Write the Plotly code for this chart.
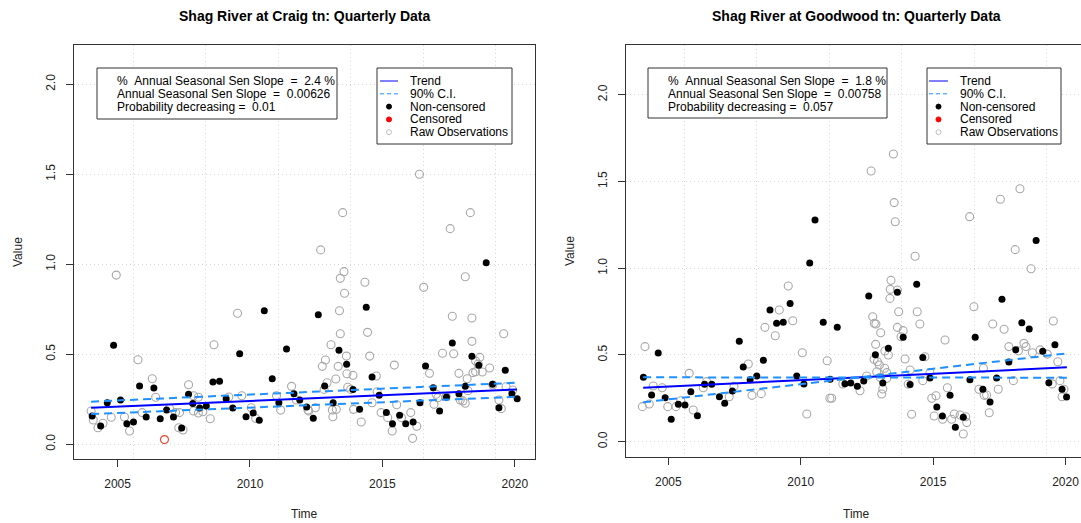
import plotly.graph_objects as go

W, H = 1081, 523

# ---------------- data: Craig (left panel) ----------------
craig_nc_t = [2004.04, 2004.36, 2004.61, 2004.85, 2005.11, 2005.35, 2005.60, 2005.83, 2006.08, 2006.37,
              2006.61, 2006.85, 2007.11, 2007.42, 2007.68, 2007.84, 2008.10, 2008.35, 2008.60, 2008.85,
              2009.10, 2009.35, 2009.61, 2009.85, 2010.12, 2010.35, 2010.54, 2010.84, 2011.09, 2011.38,
              2011.66, 2011.88, 2012.14, 2012.39, 2012.58, 2012.82, 2013.14, 2013.36, 2013.65, 2013.89,
              2014.14, 2014.39, 2014.61, 2014.88, 2015.15, 2015.38, 2015.65, 2015.88, 2016.16, 2016.42,
              2016.63, 2016.92, 2017.16, 2017.42, 2017.64, 2017.89, 2018.13, 2018.38, 2018.64, 2018.92,
              2019.16, 2019.40, 2019.64, 2019.89, 2020.09]
craig_nc_v = [0.157, 0.102, 0.231, 0.550, 0.246, 0.114, 0.124, 0.324, 0.152, 0.313,
              0.142, 0.190, 0.152, 0.091, 0.278, 0.226, 0.202, 0.213, 0.346, 0.350,
              0.253, 0.202, 0.503, 0.153, 0.174, 0.133, 0.742, 0.364, 0.231, 0.529,
              0.281, 0.246, 0.207, 0.144, 0.720, 0.324, 0.231, 0.522, 0.444, 0.305,
              0.194, 0.761, 0.374, 0.272, 0.176, 0.114, 0.161, 0.114, 0.124, 0.231,
              0.435, 0.314, 0.185, 0.263, 0.563, 0.281, 0.322, 0.489, 0.439, 1.009,
              0.333, 0.203, 0.411, 0.281, 0.253]
craig_cens_t = [2006.77]
craig_cens_v = [0.026]
craig_raw_t = [2004.95, 2016.40, 2013.50, 2018.32, 2017.56, 2012.67, 2013.55, 2013.41, 2014.34, 2016.56,
               2018.13, 2013.57, 2004.00, 2004.08, 2004.26, 2004.45, 2004.76, 2005.26, 2005.45, 2005.77,
               2005.93, 2006.31, 2006.44, 2006.96, 2007.19, 2007.34, 2007.31, 2007.47, 2007.68, 2007.87,
               2008.05, 2007.87, 2008.05, 2008.22, 2008.50, 2008.64, 2009.20, 2009.53, 2009.69, 2010.05,
               2010.21, 2011.00, 2011.16, 2011.57, 2011.75, 2012.19, 2013.38, 2014.44, 2013.41, 2013.06,
               2013.64, 2012.85, 2012.73, 2014.52, 2013.33, 2013.89, 2013.66, 2013.24, 2012.91, 2012.80,
               2013.69, 2013.80, 2015.45, 2014.77, 2014.80, 2014.61, 2012.47, 2012.22, 2013.11, 2013.26,
               2013.13, 2013.91, 2014.20, 2014.95, 2015.20, 2015.37, 2015.54, 2015.72, 2016.07, 2016.30,
               2016.14, 2016.78, 2017.03, 2016.95, 2017.27, 2017.69, 2017.64, 2018.38, 2018.38, 2017.89,
               2018.20, 2018.42, 2018.68, 2018.52, 2018.77, 2019.05, 2019.58, 2019.40, 2019.49, 2017.94,
               2018.04, 2018.13, 2018.62, 2018.52, 2017.41, 2017.09, 2019.17, 2019.92, 2019.67, 2018.23]
craig_raw_v = [0.940, 1.500, 1.287, 1.287, 1.198, 1.080, 0.959, 0.922, 0.900, 0.872,
               0.931, 0.839, 0.185, 0.135, 0.092, 0.117, 0.150, 0.152, 0.074, 0.470,
               0.176, 0.364, 0.261, 0.200, 0.176, 0.176, 0.092, 0.079, 0.331, 0.270,
               0.261, 0.185, 0.174, 0.181, 0.142, 0.553, 0.263, 0.728, 0.270, 0.203,
               0.144, 0.270, 0.190, 0.322, 0.246, 0.190, 0.742, 0.622, 0.614, 0.553,
               0.490, 0.468, 0.433, 0.490, 0.433, 0.383, 0.392, 0.363, 0.342, 0.305,
               0.317, 0.305, 0.440, 0.379, 0.292, 0.231, 0.203, 0.185, 0.190, 0.194,
               0.153, 0.194, 0.124, 0.176, 0.148, 0.074, 0.220, 0.148, 0.176, 0.100,
               0.033, 0.394, 0.278, 0.222, 0.506, 0.503, 0.711, 0.702, 0.572, 0.394,
               0.364, 0.398, 0.483, 0.463, 0.402, 0.424, 0.614, 0.246, 0.198, 0.246,
               0.241, 0.228, 0.446, 0.403, 0.265, 0.259, 0.329, 0.302, 0.320, 0.298]
craig_trend_t = [2004.00, 2020.08]
craig_trend_v = [0.203, 0.305]
craig_ci_a_v = [0.237, 0.342]
craig_ci_b_v = [0.168, 0.264]
craig_stats = ["%\u00a0\u00a0Annual Seasonal Sen Slope\u00a0\u00a0=\u00a0\u00a02.4 %",
               "Annual Seasonal Sen Slope\u00a0\u00a0=\u00a0\u00a00.00626",
               "Probability decreasing =\u00a0\u00a00.01"]

# ---------------- data: Goodwood (right panel) ----------------
good_nc_t = [2004.06, 2004.37, 2004.62, 2004.88, 2005.11, 2005.38, 2005.63, 2005.85, 2006.10, 2006.37,
             2006.64, 2006.93, 2007.13, 2007.42, 2007.68, 2007.83, 2008.09, 2008.34, 2008.59, 2008.84,
             2009.09, 2009.34, 2009.60, 2009.85, 2010.12, 2010.34, 2010.54, 2010.85, 2011.11, 2011.38,
             2011.67, 2011.89, 2012.14, 2012.38, 2012.57, 2012.82, 2013.10, 2013.31, 2013.65, 2013.87,
             2014.13, 2014.38, 2014.61, 2014.88, 2015.14, 2015.35, 2015.64, 2015.84, 2016.14, 2016.39,
             2016.59, 2016.88, 2017.15, 2017.40, 2017.60, 2017.86, 2018.12, 2018.35, 2018.63, 2018.89,
             2019.14, 2019.37, 2019.60, 2019.87, 2020.04]
good_nc_v = [0.371, 0.269, 0.511, 0.254, 0.129, 0.216, 0.212, 0.288, 0.150, 0.331,
             0.331, 0.259, 0.221, 0.292, 0.579, 0.431, 0.357, 0.379, 0.469, 0.759,
             0.682, 0.688, 0.797, 0.379, 0.333, 1.030, 1.278, 0.688, 0.360, 0.659,
             0.334, 0.338, 0.319, 0.350, 0.840, 0.501, 0.338, 0.538, 0.861, 0.602,
             0.329, 0.907, 0.486, 0.367, 0.200, 0.148, 0.267, 0.083, 0.141, 0.357,
             0.602, 0.302, 0.229, 0.367, 0.821, 0.459, 0.530, 0.686, 0.650, 1.159,
             0.521, 0.340, 0.559, 0.302, 0.258]
good_raw_t = [2013.50, 2009.53, 2012.66, 2018.28, 2017.54, 2013.53, 2013.57, 2016.38, 2018.10, 2018.70,
              2014.32, 2013.41, 2013.38, 2013.65, 2013.37, 2004.12, 2004.02, 2004.28, 2004.43, 2004.77,
              2004.98, 2005.29, 2005.47, 2005.79, 2005.94, 2006.32, 2006.45, 2007.30, 2007.48, 2008.02,
              2008.16, 2008.51, 2008.65, 2009.04, 2009.19, 2009.70, 2010.06, 2010.23, 2011.00, 2011.10,
              2011.17, 2011.59, 2012.24, 2012.49, 2012.72, 2012.78, 2012.84, 2013.02, 2012.83, 2012.77,
              2012.90, 2012.97, 2013.18, 2013.31, 2013.17, 2013.25, 2012.87, 2013.00, 2013.25, 2013.10,
              2013.06, 2013.70, 2013.65, 2013.87, 2013.79, 2013.94, 2014.13, 2014.06, 2014.40, 2014.50,
              2014.19, 2014.61, 2014.88, 2014.69, 2014.95, 2015.11, 2015.04, 2015.36, 2015.45, 2015.54,
              2015.70, 2015.80, 2016.02, 2016.23, 2016.27, 2016.14, 2016.54, 2016.73, 2016.90, 2016.93,
              2017.02, 2017.12, 2017.25, 2017.46, 2017.68, 2017.86, 2018.03, 2018.22, 2018.43, 2018.51,
              2018.75, 2019.04, 2019.31, 2019.54, 2019.71, 2019.50, 2019.79, 2019.87, 2019.94]
good_raw_v = [1.658, 0.897, 1.560, 1.458, 1.397, 1.378, 1.268, 1.297, 1.107, 0.997,
              1.069, 0.930, 0.878, 0.874, 0.826, 0.548, 0.202, 0.217, 0.321, 0.311,
              0.202, 0.202, 0.236, 0.394, 0.183, 0.311, 0.346, 0.259, 0.319, 0.448,
              0.267, 0.277, 0.659, 0.611, 0.759, 0.697, 0.513, 0.160, 0.467, 0.250,
              0.250, 0.333, 0.294, 0.379, 0.720, 0.682, 0.678, 0.628, 0.561, 0.475,
              0.461, 0.442, 0.523, 0.500, 0.423, 0.398, 0.403, 0.371, 0.365, 0.304,
              0.275, 0.749, 0.659, 0.640, 0.605, 0.477, 0.413, 0.331, 0.749, 0.678,
              0.158, 0.352, 0.398, 0.490, 0.250, 0.265, 0.148, 0.129, 0.586, 0.311,
              0.129, 0.160, 0.154, 0.144, 0.110, 0.044, 0.778, 0.302, 0.423, 0.267,
              0.269, 0.167, 0.678, 0.302, 0.648, 0.548, 0.352, 0.524, 0.567, 0.548,
              0.513, 0.529, 0.505, 0.696, 0.461, 0.333, 0.352, 0.259, 0.302]
good_trend_t = [2004.05, 2020.05]
good_trend_v = [0.311, 0.429]
good_ci_a_v = [0.371, 0.369]
good_ci_b_v = [0.227, 0.509]
good_stats = ["%\u00a0\u00a0Annual Seasonal Sen Slope\u00a0\u00a0=\u00a0\u00a01.8 %",
              "Annual Seasonal Sen Slope\u00a0\u00a0=\u00a0\u00a00.00758",
              "Probability decreasing =\u00a0\u00a00.057"]

titles = ["Shag River at Craig tn: Quarterly Data", "Shag River at Goodwood tn: Quarterly Data"]
legend_labels = ["Trend", "90% C.I.", "Non-censored", "Censored", "Raw Observations"]
x_ticks = [2005, 2010, 2015, 2020]
y_ticks = [0.0, 0.5, 1.0, 1.5, 2.0]
# grid lines at every 1000 days of R Date numeric (13000..18000 days)
grid_x = [2005.593, 2008.331, 2011.069, 2013.807, 2016.545, 2019.283]

FONT = "Liberation Sans, Arial, Helvetica, sans-serif"
BLUE = "#0000FF"
CI_BLUE = "#1E90FF"
RAW_GREY = "#A8A8A8"
RED = "#F04A2E"
AX = "#333333"
GRID = "#D8D8D8"

def px(x):
    return x / W

def py(y):
    return 1 - y / H

fig = go.Figure()

panels = [
    dict(nc=(craig_nc_t, craig_nc_v), raw=(craig_raw_t, craig_raw_v), cens=(craig_cens_t, craig_cens_v),
         trend=(craig_trend_t, craig_trend_v), ci=(craig_ci_a_v, craig_ci_b_v), stats=craig_stats,
         xd=[74, 535], yd=[45, 459], xr=[2003.354, 2020.763], yr=[-0.0817, 2.2183],
         box=(97, 68, 337, 119), txt_x=115, leg=(377, 68, 512, 144), sym_x=(380, 398), leg_tx=408,
         title_x=304.5, ylab_x=18, mirror_y=True),
    dict(nc=(good_nc_t, good_nc_v), raw=(good_raw_t, good_raw_v), cens=([], []),
         trend=(good_trend_t, good_trend_v), ci=(good_ci_a_v, good_ci_b_v), stats=good_stats,
         xd=[625.7, 1081], yd=[45, 457], xr=[2003.391, 2020.585], yr=[-0.0882, 2.2865],
         box=(648, 68, 887, 118), txt_x=666, leg=(927, 68, 1061, 144), sym_x=(929, 948), leg_tx=958,
         title_x=856, ylab_x=570, mirror_y=False),
]

shapes = []
annotations = []
for i, p in enumerate(panels):
    xa = "x" if i == 0 else "x2"
    ya = "y" if i == 0 else "y2"
    # raw observations
    fig.add_trace(go.Scatter(x=p["raw"][0], y=p["raw"][1], mode="markers", xaxis=xa, yaxis=ya,
                             marker=dict(symbol="circle-open", size=8, color=RAW_GREY, line=dict(width=1.1, color=RAW_GREY)),
                             showlegend=False, hoverinfo="skip"))
    if p["cens"][0]:
        fig.add_trace(go.Scatter(x=p["cens"][0], y=p["cens"][1], mode="markers", xaxis=xa, yaxis=ya,
                                 marker=dict(symbol="circle-open", size=8, color=RED, line=dict(width=1.2, color=RED)),
                                 showlegend=False, hoverinfo="skip"))
    fig.add_trace(go.Scatter(x=p["nc"][0], y=p["nc"][1], mode="markers", xaxis=xa, yaxis=ya,
                             marker=dict(symbol="circle", size=7, color="black"),
                             showlegend=False, hoverinfo="skip"))
    fig.add_trace(go.Scatter(x=p["trend"][0], y=p["trend"][1], mode="lines", xaxis=xa, yaxis=ya,
                             line=dict(color=BLUE, width=2), showlegend=False, hoverinfo="skip"))
    for civ in p["ci"]:
        fig.add_trace(go.Scatter(x=p["trend"][0], y=civ, mode="lines", xaxis=xa, yaxis=ya,
                                 line=dict(color=CI_BLUE, width=2, dash="8px,5px"), showlegend=False, hoverinfo="skip"))

    # stats box
    bx0, by0, bx1, by1 = p["box"]
    shapes.append(dict(type="rect", xref="paper", yref="paper", x0=px(bx0), x1=px(bx1), y0=py(by1), y1=py(by0),
                       line=dict(color=AX, width=1), fillcolor="white", layer="above"))
    for k, s in enumerate(p["stats"]):
        annotations.append(dict(text=s, xref="paper", yref="paper", x=px(p["txt_x"]), y=py(81 + 12.9 * k),
                                xanchor="left", yanchor="middle", showarrow=False,
                                font=dict(family=FONT, size=12, color="black")))
    # legend box
    lx0, ly0, lx1, ly1 = p["leg"]
    shapes.append(dict(type="rect", xref="paper", yref="paper", x0=px(lx0), x1=px(lx1), y0=py(ly1), y1=py(ly0),
                       line=dict(color=AX, width=1), fillcolor="white", layer="above"))
    rows = [81, 93.8, 106.6, 119.4, 132.2]
    sx0, sx1 = p["sym_x"]
    sxc = (sx0 + sx1) / 2
    shapes.append(dict(type="line", xref="paper", yref="paper", x0=px(sx0), x1=px(sx1), y0=py(rows[0]), y1=py(rows[0]),
                       line=dict(color=BLUE, width=1), layer="above"))
    shapes.append(dict(type="line", xref="paper", yref="paper", x0=px(sx0), x1=px(sx1), y0=py(rows[1]), y1=py(rows[1]),
                       line=dict(color=CI_BLUE, width=1, dash="4px,3px"), layer="above"))
    for r, (fc, lc) in zip(rows[2:], [("black", "black"), ("red", "red"), ("white", "#C0C0C0")]):
        shapes.append(dict(type="circle", xref="paper", yref="paper", xsizemode="pixel", ysizemode="pixel",
                           xanchor=px(sxc), yanchor=py(r), x0=-2.5, x1=2.5, y0=-2.5, y1=2.5,
                           fillcolor=fc, line=dict(color=lc, width=1), layer="above"))
    for r, lab in zip(rows, legend_labels):
        annotations.append(dict(text=lab, xref="paper", yref="paper", x=px(p["leg_tx"]), y=py(r),
                                xanchor="left", yanchor="middle", showarrow=False,
                                font=dict(family=FONT, size=12, color="black")))
    # titles and axis labels
    annotations.append(dict(text="<b>" + titles[i] + "</b>", xref="paper", yref="paper", x=px(p["title_x"]), y=py(16),
                            xanchor="center", yanchor="middle", showarrow=False,
                            font=dict(family=FONT, size=14, color="black")))
    annotations.append(dict(text="Time", xref="paper", yref="paper", x=px(p["title_x"]), y=py(514),
                            xanchor="center", yanchor="middle", showarrow=False,
                            font=dict(family=FONT, size=12, color="#222")))
    annotations.append(dict(text="Value", xref="paper", yref="paper", x=px(p["ylab_x"]), y=py((p["yd"][0] + p["yd"][1]) / 2),
                            xanchor="center", yanchor="middle", showarrow=False, textangle=-90,
                            font=dict(family=FONT, size=12, color="#222")))

    xaxis = dict(domain=[px(p["xd"][0]), px(p["xd"][1])], range=p["xr"], anchor=ya,
                 tickvals=x_ticks, ticktext=[str(t) for t in x_ticks], ticks="outside", ticklen=7,
                 tickcolor=AX, showline=True, linecolor=AX, linewidth=1, mirror=True,
                 showgrid=False, zeroline=False, ticklabelstandoff=7,
                 tickfont=dict(family=FONT, size=12, color="#222"),
                 minor=dict(tickvals=grid_x, showgrid=True, gridcolor=GRID, griddash="1px,3px", gridwidth=1, ticklen=0))
    yaxis = dict(domain=[py(p["yd"][1]), py(p["yd"][0])], range=p["yr"], anchor=xa,
                 tickvals=y_ticks, ticktext=["%.1f" % t for t in y_ticks], ticks="outside", ticklen=7,
                 tickcolor=AX, showline=True, linecolor=AX, linewidth=1, mirror=p["mirror_y"],
                 showgrid=True, gridcolor=GRID, griddash="1px,3px", gridwidth=1, zeroline=False,
                 tickangle=-90, ticklabelstandoff=6,
                 tickfont=dict(family=FONT, size=12, color="#222"))
    if i == 0:
        fig.update_layout(xaxis=xaxis, yaxis=yaxis)
    else:
        fig.update_layout(xaxis2=xaxis, yaxis2=yaxis)

fig.update_layout(width=W, height=H, margin=dict(l=0, r=0, t=0, b=0),
                  paper_bgcolor="white", plot_bgcolor="white",
                  shapes=shapes, annotations=annotations, showlegend=False)

fig.write_html("out.html")
